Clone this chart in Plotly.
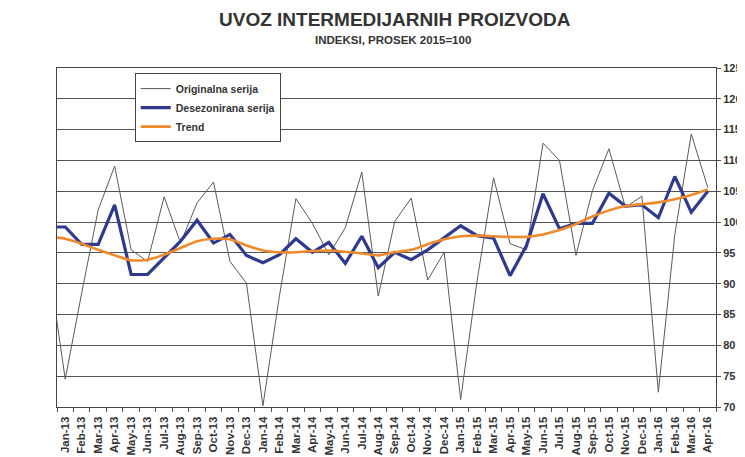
import plotly.graph_objects as go

months = ["Dec-12",
          "Jan-13", "Feb-13", "Mar-13", "Apr-13", "May-13", "Jun-13", "Jul-13", "Aug-13", "Sep-13", "Oct-13", "Nov-13", "Dec-13",
          "Jan-14", "Feb-14", "Mar-14", "Apr-14", "May-14", "Jun-14", "Jul-14", "Aug-14", "Sep-14", "Oct-14", "Nov-14", "Dec-14",
          "Jan-15", "Feb-15", "Mar-15", "Apr-15", "May-15", "Jun-15", "Jul-15", "Aug-15", "Sep-15", "Oct-15", "Nov-15", "Dec-15",
          "Jan-16", "Feb-16", "Mar-16", "Apr-16"]

originalna = [93.0,
              74.5, 88.5, 102.0, 109.1, 95.5, 93.6, 104.1, 96.6, 103.1, 106.5, 93.6, 90.1,
              70.2, 88.0, 103.8, 99.8, 94.7, 99.1, 108.1, 88.0, 100.1, 103.9, 90.6, 95.1,
              71.2, 90.5, 107.2, 96.5, 95.5, 112.8, 110.0, 94.6, 105.1, 111.9, 102.4, 104.2,
              72.4, 98.0, 114.3, 105.6]

desezonirana = [99.2,
                99.2, 96.4, 96.4, 102.8, 91.5, 91.5, 94.2, 96.9, 100.3, 96.6, 98.0, 94.6,
                93.4, 94.7, 97.3, 95.1, 96.7, 93.3, 97.7, 92.6, 95.1, 93.9, 95.5, 97.4,
                99.4, 97.8, 97.4, 91.3, 96.2, 104.6, 98.9, 99.8, 99.8, 104.7, 102.6, 102.8,
                100.7, 107.4, 101.6, 105.0]

trend = [97.6,
         97.3, 96.5, 95.5, 94.6, 93.8, 93.9, 94.7, 95.8, 96.9, 97.3, 97.2, 96.2,
         95.4, 95.1, 95.1, 95.3, 95.4, 95.2, 94.9, 94.6, 95.1, 95.5, 96.4, 97.2,
         97.7, 97.8, 97.7, 97.6, 97.6, 98.0, 98.7, 99.7, 100.9, 101.9, 102.6, 102.9,
         103.2, 103.7, 104.4, 105.3]

y_ticks = [70, 75, 80, 85, 90, 95, 100, 105, 110, 115, 120, 125]

title_text = "UVOZ INTERMEDIJARNIH PROIZVODA"
subtitle_text = "INDEKSI, PROSEK 2015=100"

FONT = "Liberation Sans, Arial, sans-serif"
TXT = "#333333"

fig = go.Figure()
fig.add_trace(go.Scatter(x=months, y=originalna, mode="lines", name="Originalna serija",
                         line=dict(color="#5a5a5a", width=1)))
fig.add_trace(go.Scatter(x=months, y=desezonirana, mode="lines", name="Desezonirana serija",
                         line=dict(color="#2f3a8f", width=3.2)))
fig.add_trace(go.Scatter(x=months, y=trend, mode="lines", name="Trend",
                         line=dict(color="#ee8a2a", width=2.6, shape="spline", smoothing=0.6)))

# page body has an 8px margin; the figure is sized so that it fits the 745x457 window
fig.update_layout(
    width=737, height=449,
    margin=dict(l=49, r=29, t=60, b=50),
    paper_bgcolor="white", plot_bgcolor="white",
    font=dict(family=FONT, color=TXT),
    showlegend=True,
    legend=dict(x=0.118, y=0.985, xanchor="left", yanchor="top",
                bgcolor="white", bordercolor="#444444", borderwidth=1,
                font=dict(size=10.5, color=TXT, family=FONT, weight="bold"),
                itemwidth=30, tracegroupgap=0),
    annotations=[
        dict(text=title_text, xref="paper", yref="paper", x=0.513, y=1.1445,
             xanchor="center", yanchor="middle", showarrow=False,
             font=dict(size=19, color=TXT, family=FONT, weight="bold")),
        dict(text=subtitle_text, xref="paper", yref="paper", x=0.51, y=1.0826,
             xanchor="center", yanchor="middle", showarrow=False,
             font=dict(size=11.5, color=TXT, family=FONT, weight="bold")),
    ],
)

fig.update_xaxes(
    type="category", categoryorder="array", categoryarray=months,
    range=[0.5, len(months) - 0.5],
    tickson="boundaries", ticks="outside", ticklen=4, tickcolor="#555555",
    tickangle=-90, tickfont=dict(size=11.5, color=TXT, family=FONT, weight="bold"),
    ticklabelstandoff=4,
    showgrid=False, showline=True, linecolor="#444444", linewidth=1, mirror=True,
    automargin=False, zeroline=False,
)
fig.update_yaxes(
    side="right", range=[70, 125], tickvals=y_ticks,
    ticks="outside", ticklen=4, tickcolor="#555555",
    tickfont=dict(size=11, color=TXT, family=FONT, weight="bold"),
    showgrid=True, gridcolor="#555555", gridwidth=1,
    showline=True, linecolor="#444444", linewidth=1, mirror=True,
    automargin=False, zeroline=False,
)

fig.write_html("out.html")
